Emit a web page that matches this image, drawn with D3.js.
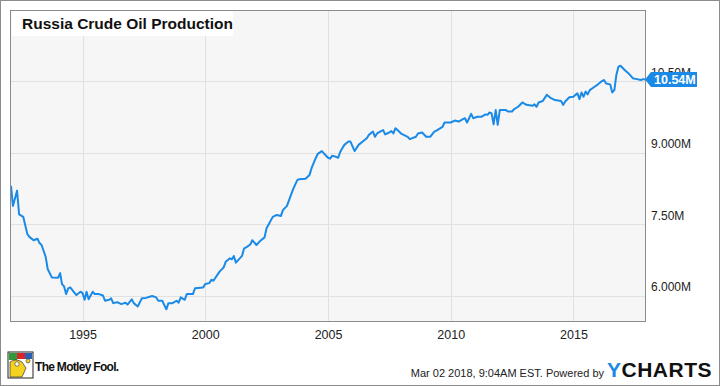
<!DOCTYPE html>
<html>
<head>
<meta charset="utf-8">
<script src="https://cdn.jsdelivr.net/npm/d3@7"></script>
<style>
  body { margin: 0; background: #fff; }
  svg { display: block; font-family: "Liberation Sans", Arial, sans-serif; }
</style>
</head>
<body>
<svg id="chart" width="720" height="386"></svg>
<script>
// Russia crude oil production, millions of barrels per day
const months = [
  "1992-02","1992-03","1992-05","1992-06","1992-08","1992-10","1992-11","1993-01","1993-03","1993-04",
  "1993-05","1993-07","1993-08","1993-10","1994-01","1994-02","1994-03","1994-04","1994-05","1994-06",
  "1994-07","1994-09","1994-10","1994-12","1995-01","1995-02","1995-03","1995-04","1995-06","1995-07",
  "1995-09","1995-11","1995-12","1996-02","1996-03","1996-04","1996-06","1996-08","1996-10","1996-11",
  "1997-01","1997-02","1997-04","1997-06","1997-08","1997-11","1998-01","1998-02","1998-04","1998-06",
  "1998-07","1998-09","1998-11","1998-12","1999-01","1999-03","1999-04","1999-07","1999-08","1999-12",
  "2000-01","2000-03","2000-04","2000-05","2000-08","2000-10","2000-11","2001-01","2001-02","2001-03",
  "2001-04","2001-07","2001-08","2001-09","2001-11","2001-12","2002-02","2002-04","2002-06","2002-07",
  "2002-08","2002-10","2002-12","2003-02","2003-03","2003-05","2003-06","2003-08","2003-10","2003-11",
  "2004-02","2004-04","2004-05","2004-07","2004-08","2004-10","2004-11","2005-01","2005-02","2005-03",
  "2005-05","2005-06","2005-07","2005-08","2005-09","2005-11","2005-12","2006-02","2006-04","2006-06",
  "2006-08","2006-09","2006-11","2006-12","2007-01","2007-03","2007-04","2007-05","2007-07","2007-08",
  "2007-09","2007-10","2007-11","2008-01","2008-04","2008-05","2008-08","2008-09","2008-11","2009-01",
  "2009-03","2009-05","2009-06","2009-09","2009-10","2010-01","2010-03","2010-05","2010-07","2010-08",
  "2010-09","2010-11","2010-12","2011-02","2011-04","2011-06","2011-07","2011-08","2011-09","2011-10",
  "2011-11","2011-12","2012-01","2012-04","2012-05","2012-07","2012-08","2012-10","2012-12","2013-02",
  "2013-05","2013-06","2013-07","2013-08","2013-10","2013-12","2014-02","2014-04","2014-07","2014-08",
  "2014-09","2014-11","2015-01","2015-02","2015-03","2015-04","2015-05","2015-06","2015-07","2015-08",
  "2015-09","2015-11","2016-01","2016-03","2016-04","2016-05","2016-07","2016-08","2016-09","2016-10",
  "2016-11","2016-12","2017-02","2017-04","2017-06","2017-08","2017-10","2017-11","2017-12"
];
const production = [
  8.31,7.89,8.21,7.71,7.66,7.30,7.24,7.17,7.20,7.11,
  7.07,6.82,6.56,6.39,6.38,6.48,6.25,6.20,6.04,6.16,
  6.18,6.07,6.02,6.09,6.06,5.92,6.09,5.93,6.09,6.04,
  6.04,6.01,5.90,5.92,5.95,5.85,5.87,5.83,5.86,5.82,
  5.93,5.85,5.78,5.95,5.96,6.00,5.97,5.90,5.90,5.72,
  5.85,5.85,5.90,5.86,5.97,5.92,6.04,6.04,6.16,6.18,
  6.25,6.27,6.34,6.32,6.51,6.60,6.72,6.79,6.77,6.84,
  6.70,6.84,7.00,7.02,7.08,7.17,7.07,7.16,7.23,7.42,
  7.50,7.66,7.70,7.68,7.80,7.89,8.01,8.24,8.43,8.45,
  8.46,8.54,8.68,8.89,8.98,9.04,8.99,8.90,8.88,8.94,
  8.92,8.90,9.02,9.10,9.17,9.24,9.24,9.04,9.17,9.24,
  9.31,9.38,9.45,9.34,9.41,9.46,9.48,9.39,9.43,9.46,
  9.41,9.52,9.48,9.40,9.34,9.29,9.34,9.41,9.43,9.34,
  9.34,9.45,9.47,9.55,9.64,9.64,9.68,9.66,9.71,9.73,
  9.64,9.82,9.73,9.76,9.76,9.81,9.80,9.85,9.83,9.60,
  9.90,9.59,9.90,9.90,9.87,9.87,9.92,9.97,10.06,10.01,
  9.99,10.02,9.97,10.06,10.09,10.22,10.15,10.11,10.09,10.01,
  10.08,10.17,10.18,10.22,10.25,10.13,10.27,10.18,10.29,10.23,
  10.32,10.38,10.44,10.51,10.53,10.46,10.44,10.27,10.32,10.64,
  10.81,10.83,10.74,10.67,10.57,10.55,10.53,10.55,10.54
];
const yTicks = [6, 7.5, 9, 10.5];
const yTickLabels = ["6.000M", "7.50M", "9.000M", "10.50M"];
const xTickYears = [1995, 2000, 2005, 2010, 2015];
const lastLabel = "10.54M";

const parseMonth = d3.timeParse("%Y-%m");
const data = months.map((m, i) => ({ date: parseMonth(m), value: production[i] }));

const W = 720, H = 386;
const plot = { left: 11, right: 645, top: 10, bottom: 321 };
const blue = "#1a8ae6";

const svg = d3.select("#chart");

// outer frame
svg.append("rect")
  .attr("x", 0.5).attr("y", 0.5)
  .attr("width", W - 1).attr("height", H - 1)
  .attr("fill", "#fff").attr("stroke", "#8c8c8c");

const x = d3.scaleTime()
  .domain([new Date(1992, 1, 1), new Date(2017, 11, 1)])
  .range([plot.left, plot.right]);

const y = d3.scaleLinear()
  .domain([5.475, 12.0])
  .range([plot.bottom, plot.top]);

// plot background
svg.append("rect")
  .attr("x", plot.left).attr("y", plot.top)
  .attr("width", plot.right - plot.left).attr("height", plot.bottom - plot.top)
  .attr("fill", "#f6f6f6");

// grid lines
svg.append("g")
  .selectAll("line.vg")
  .data(xTickYears)
  .join("line")
  .attr("x1", d => Math.round(x(new Date(d, 0, 1))) + 0.5)
  .attr("x2", d => Math.round(x(new Date(d, 0, 1))) + 0.5)
  .attr("y1", plot.top).attr("y2", plot.bottom)
  .attr("stroke", "#e1e1e1");

svg.append("g")
  .selectAll("line.hg")
  .data(yTicks)
  .join("line")
  .attr("x1", plot.left).attr("x2", plot.right)
  .attr("y1", d => Math.round(y(d)) + 0.5)
  .attr("y2", d => Math.round(y(d)) + 0.5)
  .attr("stroke", "#e1e1e1");

// title box
svg.append("rect")
  .attr("x", plot.left + 1).attr("y", plot.top + 1)
  .attr("width", 221).attr("height", 25)
  .attr("fill", "#fff");
svg.append("text")
  .attr("x", 22).attr("y", 29)
  .attr("font-size", 15.5).attr("font-weight", "bold")
  .attr("fill", "#111")
  .text("Russia Crude Oil Production");

// line
const line = d3.line()
  .x(d => x(d.date))
  .y(d => y(d.value));

svg.append("path")
  .datum(data)
  .attr("d", line)
  .attr("fill", "none")
  .attr("stroke", blue)
  .attr("stroke-width", 2)
  .attr("stroke-linejoin", "round");

// plot border
svg.append("rect")
  .attr("x", plot.left - 0.5).attr("y", plot.top + 0.5)
  .attr("width", plot.right - plot.left + 1).attr("height", plot.bottom - plot.top)
  .attr("fill", "none").attr("stroke", "#8c8c8c");

// bottom axis
const xAxis = d3.axisBottom(x)
  .tickValues(xTickYears.map(yr => new Date(yr, 0, 1)))
  .tickFormat(d3.timeFormat("%Y"))
  .tickSize(0).tickPadding(9);

const gx = svg.append("g")
  .attr("transform", `translate(0,${plot.bottom})`)
  .call(xAxis);
gx.select(".domain").remove();
gx.selectAll("text")
  .attr("font-family", "Liberation Sans, Arial, sans-serif")
  .attr("font-size", 12.5).attr("fill", "#222");

// right axis (labels sit just above their grid lines)
const yAxis = d3.axisRight(y)
  .tickValues(yTicks)
  .tickFormat((d, i) => yTickLabels[i])
  .tickSize(0).tickPadding(6);

const gy = svg.append("g")
  .attr("transform", `translate(${plot.right},0)`)
  .call(yAxis);
gy.select(".domain").remove();
gy.selectAll("text")
  .attr("font-family", "Liberation Sans, Arial, sans-serif")
  .attr("font-size", 12).attr("fill", "#222")
  .attr("y", -9);

// last value tag
const last = data[data.length - 1];
const ty = y(last.value);
const tx = x(last.date);
svg.append("path")
  .attr("d", `M${tx},${ty} L${tx + 6},${ty - 7.5} L${tx + 52},${ty - 7.5} L${tx + 52},${ty + 7.5} L${tx + 6},${ty + 7.5} Z`)
  .attr("fill", blue);
svg.append("text")
  .attr("x", tx + 9).attr("y", ty + 4.5)
  .attr("font-size", 12.5).attr("font-weight", "bold")
  .attr("fill", "#fff")
  .text(lastLabel);

// footer: Motley Fool logo
const logo = svg.append("g").attr("transform", "translate(8,352)");
logo.append("rect").attr("width", 25).attr("height", 26).attr("fill", "#fff").attr("stroke", "#222");
logo.append("rect").attr("x", 1).attr("y", 1).attr("width", 8).attr("height", 7).attr("fill", "#2f9a3a");
logo.append("rect").attr("x", 9).attr("y", 1).attr("width", 8).attr("height", 6).attr("fill", "#d8262c");
logo.append("rect").attr("x", 17).attr("y", 1).attr("width", 7).attr("height", 6).attr("fill", "#2a5fb3");
logo.append("path").attr("d", "M2,10 Q8,6 14,10 L18,16 L14,25 L2,25 Z").attr("fill", "#f4d21f").attr("stroke", "#333").attr("stroke-width", 0.7);
logo.append("circle").attr("cx", 9).attr("cy", 12).attr("r", 2.2).attr("fill", "#fff").attr("stroke", "#333").attr("stroke-width", 0.6);
logo.append("circle").attr("cx", 20).attr("cy", 9).attr("r", 2).attr("fill", "#f4d21f").attr("stroke", "#333").attr("stroke-width", 0.6);
svg.append("text")
  .attr("x", 35).attr("y", 371)
  .attr("font-size", 12).attr("font-weight", "bold")
  .attr("letter-spacing", -0.7)
  .attr("fill", "#111")
  .text("The Motley Fool.");

// footer: timestamp and YCharts
svg.append("text")
  .attr("x", 604).attr("y", 377)
  .attr("text-anchor", "end")
  .attr("font-size", 11).attr("fill", "#222")
  .text("Mar 02 2018, 9:04AM EST.  Powered by");
const yc = svg.append("text")
  .attr("x", 607).attr("y", 377)
  .attr("font-size", 21).attr("font-weight", "bold")
  .attr("letter-spacing", 0.5);
yc.append("tspan").attr("fill", blue).text("Y");
yc.append("tspan").attr("fill", "#111").text("CHARTS");
</script>
</body>
</html>
